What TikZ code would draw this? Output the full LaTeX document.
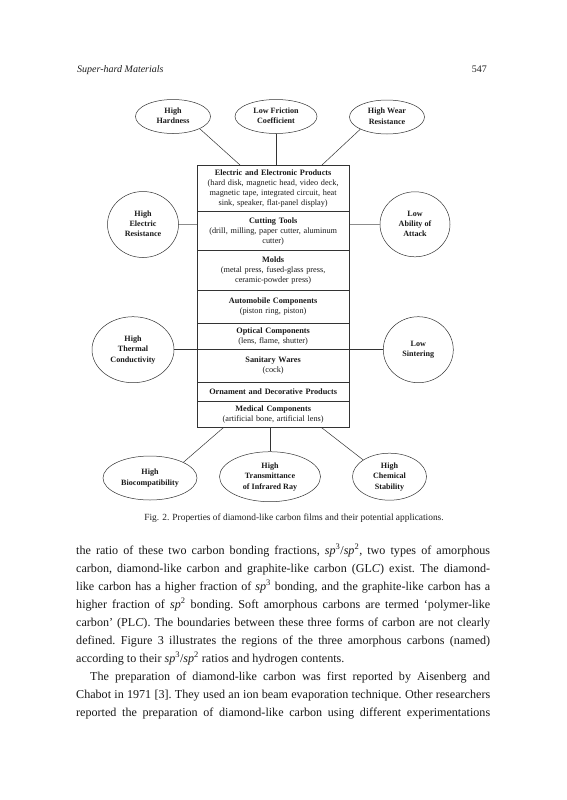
\documentclass[tikz,border=0pt]{standalone}
\usepackage{fontspec}
\setmainfont{Liberation Serif}
\usetikzlibrary{shapes.geometric}
\newcommand\ovaltext[1]{\makebox[0pt]{\begin{tabular}{@{}c@{}}#1\end{tabular}}}
\newcommand\jline[2]{\hbox to #1{\frenchspacing\spaceskip=0.25em plus 0.4em minus 0.18em\relax #2}}
\newcommand\spt[1]{\textit{sp}\textsuperscript{#1}}
\begin{document}
\begin{tikzpicture}[x=1pt,y=-1pt,
  oval/.style={draw=black!80, line width=0.5pt, ellipse, inner sep=0pt, text=black!90,
    font=\fontsize{8.1}{10.3}\selectfont\bfseries},
  rowbox/.style={draw=black!80, line width=0.6pt, rectangle, inner sep=0pt,
    minimum width=152.3pt, text width=150pt, align=center, text=black!90,
    font=\fontsize{8.25}{10}\selectfont},
  link/.style={draw=black!80, line width=0.5pt},
  faint/.style={draw=black!45, line width=0.5pt},
  bodyline/.style={anchor=base west, inner sep=0pt, text=black!90,
    font=\fontsize{12.1}{18}\selectfont},
  plain/.style={inner sep=0pt, text=black!88}
]
\useasboundingbox (0,0) rectangle (566,800);
\fill[white] (0,0) rectangle (566,800);

% header
\node[plain, anchor=base west, font=\fontsize{10}{12}\selectfont\itshape] (hdr) at (77,73) {Super-hard Materials};
\node[plain, anchor=base east, font=\fontsize{10}{12}\selectfont] (pg) at (487,73) {547};

% central column
\node[rowbox, minimum height=46.7pt] (r1) at (273.15,188.35) {\textbf{Electric and Electronic Products}\\(hard disk, magnetic head, video deck,\\magnetic tape, integrated circuit, heat\\sink, speaker, flat-panel display)};
\node[rowbox, minimum height=39pt] (r2) at (273.15,231.2) {\textbf{Cutting Tools}\\(drill, milling, paper cutter, aluminum\\cutter)};
\node[rowbox, minimum height=39.3pt] (r3) at (273.15,270.35) {\textbf{Molds}\\(metal press, fused-glass press,\\ceramic-powder press)};
\node[rowbox, minimum height=33pt] (r4) at (273.15,306.5) {\textbf{Automobile Components}\\(piston ring, piston)};
\node[rowbox, minimum height=26.3pt] (r5) at (273.15,336.15) {\textbf{Optical Components}\\(lens, flame, shutter)};
\node[rowbox, minimum height=32.7pt] (r6) at (273.15,365.65) {\textbf{Sanitary Wares}\\(cock)};
\node[rowbox, minimum height=19.7pt] (r7) at (273.15,391.85) {\textbf{Ornament and Decorative Products}};
\node[rowbox, minimum height=26pt] (r8) at (273.15,414.7) {\textbf{Medical Components}\\(artificial bone, artificial lens)};

% properties
\node[oval, minimum width=75pt, minimum height=34pt] (hard) at (173,116.5) {\ovaltext{High\\Hardness}};
\node[oval, minimum width=82pt, minimum height=34pt] (fric) at (276,116.5) {\ovaltext{Low Friction\\Coefficient}};
\node[oval, minimum width=75pt, minimum height=34pt] (wear) at (387,117) {\ovaltext{High Wear\\Resistance}};
\node[oval, minimum width=71pt, minimum height=66pt] (elec) at (143,224.5) {\ovaltext{High\\Electric\\Resistance}};
\node[oval, minimum width=70pt, minimum height=65pt] (attack) at (415,224.3) {\ovaltext{Low\\Ability of\\Attack}};
\node[oval, minimum width=82pt, minimum height=66pt] (therm) at (133,349.7) {\ovaltext{High\\Thermal\\Conductivity}};
\node[oval, minimum width=70pt, minimum height=66pt] (sinter) at (418.3,349.7) {\ovaltext{Low\\Sintering}};
\node[oval, minimum width=94pt, minimum height=44pt] (bio) at (150,478) {\ovaltext{High\\Biocompatibility}};
\node[oval, minimum width=101pt, minimum height=50pt] (trans) at (270,476.7) {\ovaltext{High\\Transmittance\\of Infrared Ray}};
\node[oval, minimum width=74pt, minimum height=47pt] (chem) at (389.5,476.7) {\ovaltext{High\\Chemical\\Stability}};

% connectors
\coordinate (t1) at (240,165);
\coordinate (t3) at (322,165);
\coordinate (b1) at (223.3,427.7);
\coordinate (b3) at (321.7,427.7);
\draw[link] (hard.south east) -- (t1);
\draw[link] (fric.south) -- (fric.south |- r1.north);
\draw[link] (wear.south west) -- (t3);
\draw[faint] (elec.east) -- (elec.east -| r2.west);
\draw[faint] (attack.west) -- (attack.west -| r2.east);
\draw[link] (therm.east) -- (therm.east -| r5.west);
\draw[link] (sinter.west) -- (sinter.west -| r5.east);
\draw[link] (bio.north east) -- (b1);
\draw[link] (trans.north) -- (trans.north |- r8.south);
\draw[link] (chem.north west) -- (b3);

% caption
\node[plain, anchor=base, font=\fontsize{9.4}{11}\selectfont] (cap) at (294,520) {Fig. 2. Properties of diamond-like carbon films and their potential applications.};

% body text
\node[bodyline] (l1) at (76,554) {\jline{414pt}{the ratio of these two carbon bonding fractions, \spt{3}/\spt{2}, two types of amorphous}};
\node[bodyline] (l2) at (76,572) {\jline{414pt}{carbon, diamond-like carbon and graphite-like carbon (GL\textit{C}) exist. The diamond-}};
\node[bodyline] (l3) at (76,590) {\jline{414pt}{like carbon has a higher fraction of \spt{3} bonding, and the graphite-like carbon has a}};
\node[bodyline] (l4) at (76,608) {\jline{414pt}{higher fraction of \spt{2} bonding. Soft amorphous carbons are termed ‘polymer-like}};
\node[bodyline] (l5) at (76,626) {\jline{414pt}{carbon’ (PL\textit{C}). The boundaries between these three forms of carbon are not clearly}};
\node[bodyline] (l6) at (76,644) {\jline{414pt}{defined. Figure 3 illustrates the regions of the three amorphous carbons (named)}};
\node[bodyline] (l7) at (76,662) {according to their \spt{3}/\spt{2} ratios and hydrogen contents.};
\node[bodyline] (l8) at (90,680) {\jline{400pt}{The preparation of diamond-like carbon was first reported by Aisenberg and}};
\node[bodyline] (l9) at (76,698) {\jline{414pt}{Chabot in 1971 [3]. They used an ion beam evaporation technique. Other researchers}};
\node[bodyline] (l10) at (76,716) {\jline{414pt}{reported the preparation of diamond-like carbon using different experimentations}};
\end{tikzpicture}
\end{document}
